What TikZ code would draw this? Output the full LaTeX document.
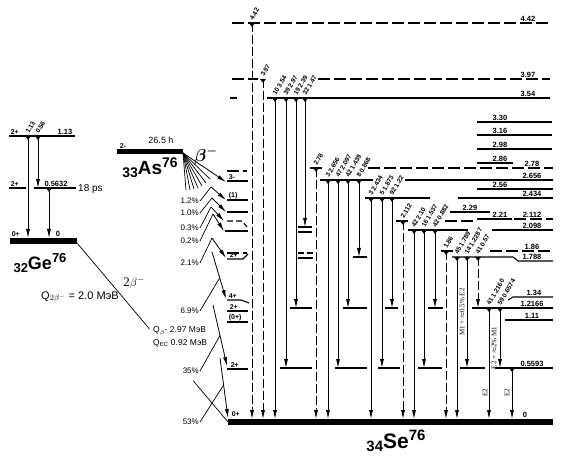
\documentclass[tikz,border=0pt]{standalone}
\usepackage{fontspec}
\setmainfont{Liberation Sans}
\newfontfamily\serfont{Liberation Serif}
\usetikzlibrary{arrows.meta, calc}

\tikzset{
  lvl/.style={line width=1.1pt},
  dlvl/.style={line width=1.1pt, dash pattern=on 12pt off 4pt},
  gnd/.style={line width=6pt},
  gam/.style={line width=0.8pt, -{Latex[length=9pt,width=4pt]}},
  dgam/.style={gam, dash pattern=on 9pt off 3pt},
  bet/.style={line width=0.8pt, -{Latex[length=9pt,width=4pt]}},
  ldr/.style={line width=0.7pt},
  lab/.style={font=\fontsize{7.5}{8}\selectfont\bfseries, inner sep=0.6pt, anchor=south},
  glab/.style={font=\fontsize{6.5}{7}\selectfont\bfseries, inner sep=0pt, rotate=60, anchor=base west},
  spin/.style={font=\fontsize{7}{8}\selectfont\bfseries, inner sep=0.6pt, anchor=south west},
  pct/.style={font=\fontsize{8}{9}\selectfont, inner sep=1pt, anchor=east},
  vlab/.style={font=\serfont\fontsize{7}{8}\selectfont, inner sep=0.5pt, rotate=90},
  nuc/.style={font=\fontsize{18}{18}\selectfont\bfseries, inner sep=0pt},
}
\newcommand{\gtip}[2]{\fill (#1-3,#2) -- (#1+3,#2) -- (#1,#2+4) -- cycle;}

\begin{document}
\begin{tikzpicture}[x=1pt, y=-1pt]
\useasboundingbox (0,0) rectangle (565,465);

% Ge76
\draw[lvl] (9,136) -- (75,136);
\draw[lvl] (9,188) -- (26,188);
\draw[lvl] (34,188) -- (76,188);
\draw[gnd] (10,241) -- (77,241);
\node[spin] (ge2b) at (10,135) {2+};
\node[lab] (ge113) at (65,135) {1.13};
\node[spin] (ge2a) at (10,187) {2+};
\node[lab] (ge056) at (56,187) {0.5632};
\node[font=\fontsize{10}{11}\selectfont, anchor=west, inner sep=0] (geps) at (78,189) {18 ps};
\node[spin] (ge0p) at (11,237) {0+};
\node[lab] (ge0) at (58,237) {0};
\foreach \x/\ya/\yb in {28/136/238, 38/136/188, 49/188/238} {
  \draw[gam] (\x,\ya) -- (\x,\yb);
  \gtip{\x}{\ya}
}
\node[glab] (geg1) at (29,134) {1.13};
\node[glab] (geg2) at (39,134) {0.56};
\node[nuc] (ge) at (40,263) {\raisebox{-3pt}{\fontsize{13}{13}\selectfont 32}Ge\raisebox{7pt}{\fontsize{13}{13}\selectfont 76}};

% As76
\draw[line width=5pt] (117,152) -- (183,152);
\node[spin] (as2m) at (119,149) {2-};
\node[font=\fontsize{9}{10}\selectfont, inner sep=0] (ashl) at (161,140) {26.5 h};
\node[nuc, font=\fontsize{19}{19}\selectfont\bfseries] (as) at (150,168) {\raisebox{-3pt}{\fontsize{14}{14}\selectfont 33}As\raisebox{7pt}{\fontsize{14}{14}\selectfont 76}};
\node[font=\fontsize{17}{17}\selectfont\boldmath, inner sep=0] (bm) at (206,156) {$\beta^-$};

% Se76: long levels
\draw[dlvl] (232,23) -- (550,23);
\draw[dlvl] (232,79) -- (258,79);
\draw[dlvl] (318,79) -- (550,79);
\draw[lvl] (230,98) -- (237,98);
\draw[lvl] (267,98) -- (550,98);
\foreach \y in {122,135,149} \draw[lvl] (477,\y) -- (552,\y);
\draw[lvl] (477,163) -- (513,163);
\draw[dlvl] (310,168) -- (322,168);
\draw[dlvl] (368,168) -- (553,168);
\draw[lvl] (320,180) -- (373,180);
\draw[lvl] (405,180) -- (553,180);
\draw[lvl] (477,189) -- (553,189);
\draw[lvl] (365,198) -- (430,198);
\draw[lvl] (458,198) -- (553,198);
\draw[lvl] (450,212) -- (490,212);
\draw[lvl] (477,219) -- (512,219);
\draw[dlvl] (396,221) -- (412,221);
\draw[dlvl] (445,221) -- (475,221);
\draw[dlvl] (514,219) -- (553,219);
\draw[lvl] (408,230) -- (468,230);
\draw[lvl] (492,230) -- (553,230);
\draw[dlvl] (441,251) -- (453,251);
\draw[dlvl] (490,251) -- (553,251);
\draw[lvl] (452,257) -- (513,257) -- (518,261) -- (553,261);
\draw[lvl] (508,300) -- (513,297) -- (553,297);
\draw[lvl] (472,308) -- (553,308);
\draw[lvl] (505,320) -- (553,320);
\draw[lvl] (495,368) -- (553,368);
\draw[gnd] (228,422) -- (553,422);

% level labels on the right
\foreach \x/\y/\t [count=\i] in {528/23/4.42, 528/79/3.97, 528/98/3.54, 500/122/3.30, 500/135/3.16,
  500/149/2.98, 500/163/2.86, 532/168/2.78, 532/180/2.656, 500/189/2.56, 532/198/2.434,
  470/212/2.29, 500/219/2.21, 532/219/2.112, 532/230/2.098, 532/251/1.86, 532/261/1.788,
  534/297/1.34, 532/308/1.2166, 532/320/1.11, 532/368/0.5593, 525/419/0}
  \node[lab] (lev\i) at (\x,\y-0.5) {\t};

% short levels on the left
\draw[dlvl] (227,171) -- (247,171);
\draw[lvl] (227,181) -- (248,181);
\draw[lvl] (227,200) -- (248,200);
\draw[lvl] (227,212) -- (248,212);
\draw[lvl, dash pattern=on 6pt off 3pt] (227,221) -- (242,221) -- (247,227);
\draw[lvl] (225,231) -- (248,231);
\draw[dlvl] (227,253) -- (247,253);
\draw[lvl] (227,259) -- (243,259) -- (248,254);
\draw[lvl] (227,300) -- (241,300) to[out=0,in=180] (249,303);
\draw[lvl] (227,311) -- (248,311);
\draw[lvl] (227,322) -- (248,322);
\draw[lvl] (227,369) -- (248,369);
\foreach \x/\y/\t [count=\i] in {228/181/3-, 228/200/(1), 229/259/2+, 228/300/4+, 229/311/2+,
  228/322/(0+), 230/369/2+, 231/418/0+}
  \node[spin] (sp\i) at (\x,\y-0.5) {\t};

% short levels under the cascades
\foreach \a/\b in {280/312, 335/367, 378/400, 418/442, 460/485} \draw[lvl] (\a,368) -- (\b,368);
\foreach \a/\b in {290/312, 343/367, 385/398, 428/443} \draw[lvl] (\a,308) -- (\b,308);
\draw[lvl] (353,257) -- (367,257);
\draw[lvl] (298,227) -- (312,227);
\draw[lvl] (298,232) -- (312,232);
\draw[dlvl, dash pattern=on 6pt off 3pt] (298,253) -- (313,253);
\draw[lvl] (298,258) -- (313,258);

% gamma transitions
\foreach \x/\ya/\yb/\st in {252/23/419/dgam, 263/79/419/dgam, 275/98/419/gam, 286/98/368/gam,
  296/98/308/gam, 305/98/227/gam, 316/168/419/dgam, 328/180/419/gam, 338/180/368/gam,
  348/180/308/gam, 359/180/257/gam, 371/198/419/gam, 382/198/368/gam, 392/198/308/gam,
  403/221/419/dgam, 414/230/419/gam, 424/230/368/gam, 435/230/308/gam, 446/251/419/dgam,
  457/257/419/gam, 467/257/368/gam, 478/257/308/dgam, 489/308/419/gam, 500/308/368/gam,
  512/368/419/gam} {
  \draw[\st] (\x,\ya) -- (\x,\yb);
  \gtip{\x}{\ya}
}
\foreach \x/\y/\t [count=\i] in {252/23/4.42, 263/79/3.97, 275/98/10 3.54, 286/98/39 2.97,
  296/98/19 2.39, 305/98/32 1.47, 316/168/2.78, 328/180/3 2.656, 338/180/47 2.097,
  348/180/42 1.439, 359/180/8 0.868, 371/198/3 2.434, 382/198/5 1.873, 392/198/92 1.22,
  403/221/2.112, 414/230/42 2.10, 424/230/16 1.537, 435/230/42 0.882, 446/251/1.86,
  457/257/45 1.789, 467/257/14 1.2287, 478/257/41 0.57, 489/308/41 1.2160, 500/308/59 0.6574}
  \node[glab] (gl\i) at (\x+1,\y-2) {\t};

% multipolarities
\node[vlab] (mp1) at (462,312) {M1 + $\approx$0.5\% E2};
\node[vlab] (mp2) at (494,348) {E2 + $\approx$2\% M1};
\node[vlab] (mp3) at (485,393) {E2};
\node[vlab] (mp4) at (507,393) {E2};

% beta branches
\coordinate (asend) at (183,153);
\draw[bet] (asend) -- (226,182);
\foreach \ex/\ey in {210/179, 206/183, 202/186, 198/188, 194/189, 190/190, 186/190}
  \draw[ldr] (asend) -- (\ex,\ey);
\foreach \sx/\sy/\ex/\ey/\py/\t/\f [count=\i] in {211/187/226/200/201/1.2\%/0,
  212/198/226/212/213/1.0\%/0, 211/207/224/221/228/0.3\%/0, 213/214/224/231/241/0.2\%/0,
  212/238/226/258/263/2.1\%/0, 212/252/226/299/311/6.9\%/0.55, 213/305/227/366/371/35\%/0.5,
  220/358/228/418/422/53\%/0.45} {
  \coordinate (bs\i) at (\sx,\sy);
  \coordinate (be\i) at (\ex,\ey);
  \draw[bet] (bs\i) -- (be\i);
  \node[pct] (p\i) at (200,\py) {\t};
  \draw[ldr] (p\i.east) -- ($(bs\i)!\f!(be\i)$);
}

% double beta
\coordinate (geg) at (77,243);
\coordinate (seg) at (228,422);
\draw[ldr] (geg) -- ($(geg)!0.48!(seg)$);
\draw[ldr] ($(geg)!0.77!(seg)$) -- (seg);
\node[font=\serfont\fontsize{13}{13}\selectfont, inner sep=0] (bb) at (134,283) {2$\beta^-$};
\node[font=\fontsize{11}{12}\selectfont, inner sep=0] (q2b) at (80,297) {Q$_{2\beta^-}$ = 2.0 МэВ};
\node[font=\fontsize{8.5}{9}\selectfont, anchor=west, inner sep=0] (qb) at (153,331) {Q$_\beta$- 2.97 МэВ};
\node[font=\fontsize{8.5}{9}\selectfont, anchor=west, inner sep=0] (qec) at (153,343) {Q$_\mathrm{EC}$ 0.92 МэВ};

% Se label
\node[nuc, font=\fontsize{21}{21}\selectfont\bfseries] (se) at (396,441) {\raisebox{-3pt}{\fontsize{15}{15}\selectfont 34}Se\raisebox{8pt}{\fontsize{15}{15}\selectfont 76}};
\end{tikzpicture}
\end{document}
